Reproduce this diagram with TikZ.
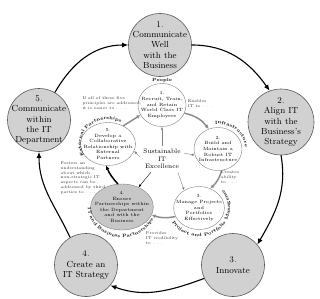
\documentclass[tikz,border=0pt]{standalone}
\usepackage{fontspec}
\usetikzlibrary{positioning,shapes.geometric,arrows.meta,decorations.text}

\newcommand{\lblfont}{\fontsize{4.5}{5}\selectfont\bfseries}

\begin{document}
\begin{tikzpicture}[x=1pt, y=1pt,
    goal/.style={circle, draw=black!65, fill=black!18, line width=0.6pt, minimum size=63pt, inner sep=-5pt, align=center, font=\fontsize{8.8}{10.4}\selectfont},
    principle/.style={ellipse, draw=black!50, fill=white, line width=0.4pt, minimum width=48pt, minimum height=43pt, inner sep=-5pt, align=center, font=\fontsize{4.6}{5.6}\selectfont},
    note/.style={align=left, font=\fontsize{4}{4.9}\selectfont, text=black!80, inner sep=0pt},
    ring/.style={-{Latex[length=6pt,width=5pt]}, line width=1.1pt},
    flow/.style={-{Latex[length=4pt,width=4pt]}, line width=1.5pt, draw=black!45},
    link/.style={-{Latex[length=3pt,width=2.4pt]}, line width=0.4pt, draw=black!50},
    area/.style={decorate, decoration={text along path, text align=center, text={#1}}}
]
\useasboundingbox (0,0) rectangle (320,298);

% Outer goals
\node[goal] (o1) at (160,253) {1.\\Communicate\\Well\\with the\\Business};
\node[goal, minimum size=66pt] (o2) at (281,176) {2.\\Align IT\\with the\\Business's\\Strategy};
\node[goal] (o3) at (233,33) {3.\\Innovate};
\node[goal] (o4) at (86,33) {4.\\Create an\\IT Strategy};
\node[goal] (o5) at (39,178) {5.\\Communicate\\within\\the IT\\Department};

% Outer cycle
\draw[ring] (o1.east) to[out=0, in=125] (o2.110);
\draw[ring] (o2.south) to[out=-80, in=60] (o3.40);
\draw[ring] (o3.205) to[out=200, in=-20] (o4.-40);
\draw[ring] (o4.120) to[out=115, in=-90] (o5.south);
\draw[ring] (o5.60) to[out=60, in=180] (o1.west);

% Inner principles
\node[principle] (p1) at (162,193) {1.\\Recruit, Train,\\and Retain\\World Class IT\\Employees};
\node[principle] (p2) at (218,149) {2.\\Build and\\Maintain a\\Robust IT\\Infrastructure};
\node[principle] (p3) at (199,90) {3.\\Manage Projects\\and\\Portfolios\\Effectively};
\node[principle, fill=black!22, minimum width=53pt, minimum height=46pt] (p4) at (122,91) {4.\\Ensure\\Partnerships within\\the Department\\and with the\\Business};
\node[principle] (p5) at (108,154) {5.\\Develop a\\Collaborative\\Relationship with\\External\\Partners};

\node[align=center, font=\fontsize{6.5}{7.5}\selectfont] (exc) at (162,139) {Sustainable\\IT\\Excellence};

% Area labels
\node[font=\lblfont, inner sep=0.5pt, above=0pt of p1] (people) {People};
\path[area={|\lblfont|Infrastructure}] (p2.center) ++(100:27pt and 25pt) arc[start angle=100, end angle=0, x radius=27pt, y radius=25pt];
\path[area={|\lblfont|Project and Portfolio Management}] (p3.center) ++(220:31pt and 28.5pt) arc[start angle=220, end angle=400, x radius=31pt, y radius=28.5pt];
\path[area={|\lblfont|IT and Business Partnerships}] (p4.center) ++(178:34pt and 30.5pt) arc[start angle=178, end angle=340, x radius=34pt, y radius=30.5pt];
\path[area={|\lblfont|External Partnerships}] (p5.center) ++(215:27pt and 24.5pt) arc[start angle=215, end angle=55, x radius=27pt, y radius=24.5pt];

% Flow between principles
\draw[flow] (p5.50) -- (p1.205);
\draw[flow] (p1.-20) to[bend left=20] (p2.115);
\draw[flow] (p2.-80) to[bend left=15] (p3.60);
\draw[flow] (p3.200) to[bend left=15] (p4.-15);
\draw[flow, draw=black] (p4.100) to[bend left=10] (p5.-95);

% Links from the centre
\draw[link] (exc.north) -- (p1.south);
\draw[link] (exc.15) -- (p2.195);
\draw[link] (exc.-40) -- (p3.130);
\draw[link, draw=black] (exc.-130) -- (p4.50);
\draw[link] (exc.175) -- (p5.-15);

% Notes
\node[note] (n1) at (112,195) {If all of these five\\principles are addressed,\\it is easier to . . . .};
\node[note] (n2) at (200,194) {Enables\\IT to . . .};
\node[note] (n3) at (230,121) {Creates\\ability\\to . . .};
\node[note] (n4) at (162,60) {Provides\\IT credibility\\to . . .};
\node[note] (n5) at (83,120) {Fosters an\\understanding\\about which\\non-strategic IT\\aspects can be\\addressed by third\\parties to . . . .};

\end{tikzpicture}
\end{document}
